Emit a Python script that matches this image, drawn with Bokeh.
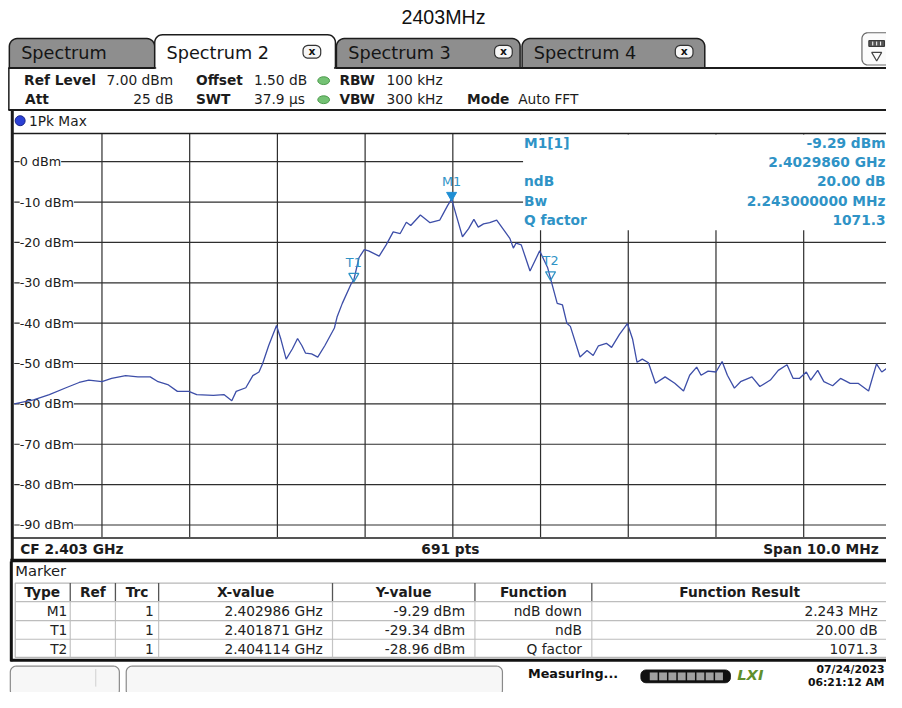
import numpy as np
from bokeh.plotting import figure
from bokeh.models import Range1d, ColumnDataSource, LabelSet
from bokeh.core.properties import value
from bokeh.embed import file_html
from bokeh.resources import INLINE

# ---------------- data ----------------
TITLE = "2403MHz"
TAB_NAMES = ["Spectrum", "Spectrum 2", "Spectrum 3", "Spectrum 4"]
ACTIVE_TAB = 1
CENTER_MHZ = 2403.0
SPAN_MHZ = 10.0
REF_DBM = 7.0
DB_PER_DIV = 10.0
N_POINTS = 691
TRACE_NAME = "1Pk Max"

DBM_TICKS = [0, -10, -20, -30, -40, -50, -60, -70, -80, -90]
DBM_TICK_LABELS = [f"{v} dBm" for v in DBM_TICKS]
FREQ_GRID_MHZ = [2399, 2400, 2401, 2402, 2403, 2404, 2405, 2406, 2407]

FREQ_MHZ = [
    2398.00, 2398.22, 2398.40, 2398.59, 2398.74, 2398.85, 2399.00, 2399.11, 2399.27, 2399.41,
    2399.55, 2399.64, 2399.75, 2399.86, 2399.99, 2400.08, 2400.27, 2400.39, 2400.48, 2400.53,
    2400.64, 2400.72, 2400.79, 2400.83, 2400.90, 2400.99, 2401.04, 2401.10, 2401.17, 2401.23,
    2401.28, 2401.32, 2401.39, 2401.46, 2401.54, 2401.65, 2401.68, 2401.74, 2401.84, 2401.871,
    2401.93, 2401.99, 2402.04, 2402.16, 2402.24, 2402.32, 2402.40, 2402.47, 2402.52, 2402.63,
    2402.74, 2402.85, 2402.88, 2402.94, 2402.986, 2403.05, 2403.11, 2403.18, 2403.24, 2403.29,
    2403.35, 2403.42, 2403.50, 2403.57, 2403.65, 2403.69, 2403.72, 2403.78, 2403.88, 2403.99,
    2404.08, 2404.114, 2404.19, 2404.25, 2404.30, 2404.34, 2404.45, 2404.53, 2404.60, 2404.66,
    2404.75, 2404.81, 2404.90, 2404.99, 2405.05, 2405.10, 2405.16, 2405.23, 2405.31, 2405.42,
    2405.53, 2405.63, 2405.70, 2405.78, 2405.83, 2405.91, 2406.00, 2406.07, 2406.13, 2406.21,
    2406.28, 2406.41, 2406.50, 2406.62, 2406.71, 2406.81, 2406.88, 2406.95, 2407.03, 2407.08,
    2407.16, 2407.23, 2407.33, 2407.42, 2407.53, 2407.62, 2407.74, 2407.83, 2407.89, 2407.94,
    2408.00,
]
LEVEL_DBM = [
    -60.0, -59.0, -57.7, -56.0, -54.7, -54.1, -54.5, -53.7, -53.0, -53.3,
    -53.3, -54.5, -55.2, -56.9, -56.9, -57.7, -57.9, -57.7, -59.2, -56.9,
    -56.0, -53.0, -52.1, -50.1, -45.6, -40.6, -44.0, -48.9, -46.4, -43.8,
    -45.6, -47.4, -47.6, -48.4, -45.6, -41.2, -38.5, -35.1, -30.3, -29.34,
    -23.8, -21.8, -22.1, -23.4, -20.6, -17.4, -17.8, -15.0, -15.8, -13.2,
    -15.1, -14.5, -13.3, -10.9, -9.29, -14.1, -18.6, -16.6, -14.3, -16.2,
    -15.4, -15.1, -14.5, -16.6, -19.0, -21.4, -20.2, -20.6, -27.1, -22.1,
    -26.2, -28.96, -35.1, -35.5, -40.0, -40.8, -48.4, -46.8, -48.0, -45.6,
    -45.0, -46.0, -42.8, -40.1, -44.0, -49.7, -48.9, -49.8, -54.9, -53.3,
    -54.9, -56.8, -52.9, -50.9, -52.9, -51.9, -52.1, -49.5, -52.9, -56.1,
    -54.5, -53.3, -55.7, -54.1, -51.7, -50.3, -53.7, -53.7, -52.1, -54.1,
    -51.7, -54.5, -55.5, -53.7, -54.9, -54.9, -56.8, -50.1, -52.1, -51.3,
    -51.5,
]

MARKER_TYPES = ["M1", "T1", "T2"]
MARKER_TRC = [1, 1, 1]
MARKER_FREQ_GHZ = [2.402986, 2.401871, 2.404114]
MARKER_DBM = [-9.29, -29.34, -28.96]
MARKER_FUNCTION = ["ndB down", "ndB", "Q factor"]
MARKER_RESULT = ["2.243 MHz", "20.00 dB", "1071.3"]
TABLE_HEADERS = ["Type", "Ref", "Trc", "X-value", "Y-value", "Function", "Function Result"]

INFO_LABELS = ["M1[1]", "", "ndB", "Bw", "Q factor"]
INFO_VALUES = ["-9.29 dBm", "2.4029860 GHz", "20.00 dB", "2.243000000 MHz", "1071.3"]

SETTINGS_ROW1 = [("Ref Level", "7.00 dBm"), ("Offset", "1.50 dB"), ("RBW", "100 kHz")]
SETTINGS_ROW2 = [("Att", "25 dB"), ("SWT", "37.9 \u00b5s"), ("VBW", "300 kHz"), ("Mode", "Auto FFT")]

STATUS_TEXT = "Measuring..."
DATE_TEXT = "07/24/2023"
TIME_TEXT = "06:21:12 AM"

# ---------------- layout / style ----------------
FONT = "DejaVu Sans"
DARK = "#1c1c1c"
GRID = "#2e2e2e"
TRACE = "#3d4ea8"
MARK = "#2f93c6"

W, H = 886, 692            # canvas
SW, SH = 902, 708          # screen layout coordinates (scaled onto canvas)
FS = W / SW                # font scale

GX0, GX1 = 14.0, 907.0      # graticule left/right (layout px)
GY0, GY1 = 136.0, 549.0     # graticule top/bottom (layout px)
F_START = CENTER_MHZ - SPAN_MHZ / 2
F_END = CENTER_MHZ + SPAN_MHZ / 2
DB_TOP = REF_DBM
DB_BOT = REF_DBM - 10 * DB_PER_DIV
PX_PER_DB = (GY1 - GY0) / (DB_TOP - DB_BOT)


def fx(px):
    return F_START + (px - GX0) * (F_END - F_START) / (GX1 - GX0)


def dy(py):
    return DB_TOP - (py - GY0) / PX_PER_DB


p = figure(width=W, height=H,
           x_range=Range1d(0, SW), y_range=Range1d(SH, 0),
           output_backend="svg", toolbar_location=None,
           x_axis_type=None, y_axis_type=None, min_border=0,
           outline_line_color=None, background_fill_color="white",
           border_fill_color="white", title=None)
p.extra_x_ranges = {"freq": Range1d(fx(0), fx(SW))}
p.extra_y_ranges = {"dbm": Range1d(dy(SH), dy(0))}


def fsz(size):
    return f"{size * FS:.2f}px"


def txt(x, y, s, size=14, bold=False, color=DARK, align="left", font=FONT, style=None, **kw):
    st = style if style else ("bold" if bold else "normal")
    return p.text(x=[x], y=[y], text=[s], text_font=value(font), text_font_size=fsz(size),
                  text_font_style=st, text_color=color, text_align=align,
                  text_baseline="middle", **kw)


def rrect(x0, y0, x1, y1, r, bottom_round=True, n=8):
    t = np.linspace(0, np.pi / 2, n)
    xs, ys = [], []
    cx, cy = x0 + r, y0 + r
    xs += list(cx - r * np.cos(t)); ys += list(cy - r * np.sin(t))
    cx, cy = x1 - r, y0 + r
    xs += list(cx + r * np.sin(t)); ys += list(cy - r * np.cos(t))
    if bottom_round:
        cx, cy = x1 - r, y1 - r
        xs += list(cx + r * np.cos(t)); ys += list(cy + r * np.sin(t))
        cx, cy = x0 + r, y1 - r
        xs += list(cx - r * np.sin(t)); ys += list(cy + r * np.cos(t))
    else:
        xs += [x1, x0]; ys += [y1, y1]
    return xs, ys


# ---------------- title ----------------
txt(451, 17, TITLE, size=20, font="Liberation Sans", color="#111111", align="center")

# ---------------- tabs ----------------
TAB_X = [(9, 157), (157, 341), (342, 529), (531, 717)]
CLOSE_X = [None, 317, 512, 696]
for i, name in enumerate(TAB_NAMES):
    if i == ACTIVE_TAB:
        continue
    x0, x1 = TAB_X[i]
    xs, ys = rrect(x0, 39, x1, 69, 8, bottom_round=False)
    p.patch(xs, ys, fill_color="#8e8e8e", line_color=DARK, line_width=1.5)
x0, x1 = TAB_X[ACTIVE_TAB]
xs, ys = rrect(x0, 35, x1, 69, 8, bottom_round=False)
p.patch(xs, ys, fill_color="white", line_color=DARK, line_width=1.5)
p.segment(x0=[8, x1], y0=[69, 69], x1=[x0, 902], y1=[69, 69], line_color=DARK, line_width=2)
p.segment(x0=[x0 + 1.5], y0=[69], x1=[x1 - 1.5], y1=[69], line_color="white", line_width=3)
for i, name in enumerate(TAB_NAMES):
    x0, x1 = TAB_X[i]
    txt(x0 + 12, 54, name, size=18, color="#151515")
    if CLOSE_X[i] is not None:
        cx = CLOSE_X[i]
        xs, ys = rrect(cx - 9, 46, cx + 9, 59, 5)
        p.patch(xs, ys, fill_color="#f6f6f6", line_color="#333333", line_width=1.2)
        txt(cx, 52, "x", size=11, bold=True, align="center", color="#111111")
# menu icon at right
xs, ys = rrect(877, 33, 908, 66, 6)
p.patch(xs, ys, fill_color="#fbfbfb", line_color="#6a6a6a", line_width=1.2)
p.quad(left=[884], right=[900], top=[41], bottom=[47], fill_color="#555555", line_color="#333333")
p.segment(x0=[888, 892, 896], y0=[42, 42, 42], x1=[888, 892, 896], y1=[46, 46, 46],
          line_color="white", line_width=1)
p.scatter(x=[892], y=[56], marker="inverted_triangle", size=10, fill_color=None,
          line_color="#444444", line_width=1.2)

# ---------------- settings area ----------------
p.segment(x0=[8.5], y0=[69], x1=[8.5], y1=[112], line_color=DARK, line_width=1.5)
p.segment(x0=[8], y0=[112], x1=[902], y1=[112], line_color=DARK, line_width=2)
row1_pos = [(24, 108), (199, 258), (345, 393)]
for (lab, val), (xl, xv) in zip(SETTINGS_ROW1, row1_pos):
    txt(xl, 81, lab, bold=True)
    txt(xv, 81, val)
txt(25, 101, SETTINGS_ROW2[0][0], bold=True)
txt(176, 101, SETTINGS_ROW2[0][1], align="right")
for (lab, val), (xl, xv) in zip(SETTINGS_ROW2[1:], [(199, 258), (345, 393), (475, 527)]):
    txt(xl, 101, lab, bold=True)
    txt(xv, 101, val)
p.ellipse(x=[329, 329], y=[82, 101.5], width=12, height=8, fill_color="#74c274",
          line_color="#4c9a4c", line_width=1)

# ---------------- trace panel ----------------
p.segment(x0=[12], y0=[112], x1=[12], y1=[574], line_color=DARK, line_width=3)
p.scatter(x=[20], y=[123], marker="circle", size=10, fill_color="#2b40d4", line_color="#18248a")
txt(29, 123.5, TRACE_NAME, size=14)
p.segment(x0=[12], y0=[GY0], x1=[902], y1=[GY0], line_color=DARK, line_width=1.5)

# grid
hg = p.segment(x0=GX0, x1=GX1, y0=DBM_TICKS, y1=DBM_TICKS, y_range_name="dbm",
               line_color=GRID, line_width=1.2)
hg.level = "image"
vg = p.segment(x0=FREQ_GRID_MHZ, x1=FREQ_GRID_MHZ, y0=GY0, y1=GY1, x_range_name="freq",
               line_color=GRID, line_width=1.2)
vg.level = "image"
box = p.quad(left=[532], right=[910], top=[GY0 + 1], bottom=[235], fill_color="white",
             line_color=None)
box.level = "image"

tick_src = ColumnDataSource(dict(x=[19.5] * len(DBM_TICKS), y=DBM_TICKS, t=DBM_TICK_LABELS))
p.add_layout(LabelSet(x="x", y="y", text="t", source=tick_src, y_range_name="dbm",
                      text_font=value(FONT), text_font_size=fsz(13), text_color="#202020",
                      text_baseline="middle", text_align="left",
                      background_fill_color="white", level="underlay"))

# trace
p.line(FREQ_MHZ, LEVEL_DBM, x_range_name="freq", y_range_name="dbm",
       line_color=TRACE, line_width=1.3)

# markers
mk_f = [g * 1000 for g in MARKER_FREQ_GHZ]
tri_y = [v + 4.0 / PX_PER_DB for v in MARKER_DBM]
lab_y = [v + 18.0 / PX_PER_DB for v in MARKER_DBM]
p.scatter(x=mk_f[:1], y=tri_y[:1], marker="inverted_triangle", size=10, x_range_name="freq",
          y_range_name="dbm", fill_color="#1f8fd4", line_color="#1f8fd4")
p.scatter(x=mk_f[1:], y=tri_y[1:], marker="inverted_triangle", size=10, x_range_name="freq",
          y_range_name="dbm", fill_color=None, line_color=MARK, line_width=1.3)
p.text(x=mk_f, y=lab_y, text=MARKER_TYPES, x_range_name="freq", y_range_name="dbm",
       text_font=value(FONT), text_font_size=fsz(13), text_color=MARK,
       text_align="center", text_baseline="middle")

# marker info box text
info_y = [146, 165, 185, 205, 225]
for lab, val, yy in zip(INFO_LABELS, INFO_VALUES, info_y):
    if lab:
        txt(533, yy, lab, bold=True, color=MARK)
    txt(901, yy, val, bold=True, color=MARK, align="right")

# bottom info row
p.segment(x0=[12], y0=[GY1 + 1], x1=[902], y1=[GY1 + 1], line_color=DARK, line_width=1.5)
txt(20, 561, f"CF {CENTER_MHZ / 1000:.3f} GHz", bold=True)
txt(458, 561, f"{N_POINTS} pts", bold=True, align="center")
txt(894, 561, f"Span {SPAN_MHZ:.1f} MHz", bold=True, align="right")
p.segment(x0=[10], y0=[573], x1=[902], y1=[573], line_color="#111111", line_width=3.5)

# ---------------- marker table ----------------
p.segment(x0=[11], y0=[574], x1=[11], y1=[676], line_color="#111111", line_width=3)
p.segment(x0=[10], y0=[675], x1=[902], y1=[675], line_color="#111111", line_width=3)
txt(15, 583, "Marker", size=15)
COL_EDGES = [14, 71, 117, 161, 338, 483, 602, 903]
PADS = [3, 4, 5, 10, 10, 10, 10]
p.quad(left=[15], right=[903], top=[596], bottom=[672], fill_color="white",
       line_color="#b8b8b8", line_width=1.2)
p.segment(x0=COL_EDGES[1:-1], y0=596, x1=COL_EDGES[1:-1], y1=615, line_color="#555555", line_width=1.3)
p.segment(x0=COL_EDGES[1:-1], y0=615, x1=COL_EDGES[1:-1], y1=672, line_color="#c4c4c4", line_width=1.2)
p.segment(x0=15, y0=[615, 634.5, 653.5], x1=903, y1=[615, 634.5, 653.5],
          line_color="#bdbdbd", line_width=1.2)
for j, h in enumerate(TABLE_HEADERS):
    txt((COL_EDGES[j] + COL_EDGES[j + 1]) / 2, 605.5, h, bold=True, align="center")
row_y = [624.5, 644, 663.5]
for i in range(len(MARKER_TYPES)):
    cells = [MARKER_TYPES[i], "", str(MARKER_TRC[i]), f"{MARKER_FREQ_GHZ[i]:.6f} GHz",
             f"{MARKER_DBM[i]:.2f} dBm", MARKER_FUNCTION[i], MARKER_RESULT[i]]
    for j, c in enumerate(cells):
        if c:
            txt(COL_EDGES[j + 1] - PADS[j], row_y[i], c, align="right", color="#222222")

# ---------------- status bar ----------------
for (bx0, bx1) in [(10, 121), (128, 511)]:
    xs, ys = rrect(bx0, 681, bx1, 712, 6)
    p.patch(xs, ys, fill_color="#f7f7f7", line_color="#8a8a8a", line_width=1.2)
p.segment(x0=[97], y0=[684], x1=[97], y1=[702], line_color="#d0d0d0", line_width=1)
txt(537, 689, STATUS_TEXT, size=13, bold=True, color="#111111")
xs, ys = rrect(652, 685, 743, 698, 5)
p.patch(xs, ys, fill_color="#111111", line_color="#111111")
seg_l = [661 + 9.5 * k for k in range(8)]
p.quad(left=seg_l, right=[s + 8 for s in seg_l], top=687.5, bottom=695.5,
       fill_color="#a0a0a0", line_color=None)
txt(750, 690, "LXI", size=15, style="bold italic", color="#5f8f2c")
txt(900, 684, DATE_TEXT, size=11, bold=True, align="right", color="#111111")
txt(900, 698, TIME_TEXT, size=11, bold=True, align="right", color="#111111")

open("out.html", "w").write(file_html(p, INLINE))
